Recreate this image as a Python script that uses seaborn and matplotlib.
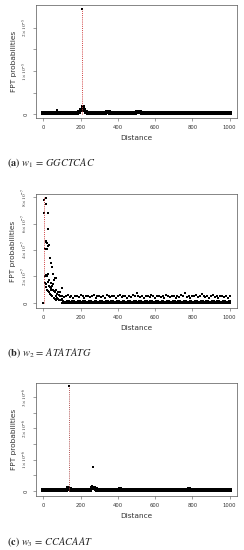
import numpy as np
import pandas as pd
import matplotlib
matplotlib.use("Agg")
import matplotlib.pyplot as plt
import seaborn as sns

sns.set_style("white")
plt.rcParams['font.family'] = ['DejaVu Sans']
plt.rcParams['mathtext.fontset'] = 'stix'

# ---- panel (a) w1 = GGCTCAC, values in 1e-5 ----
a_dist = np.arange(0, 1001, 10)
a_prob = [0.02, 0.02, 0.02, 0.02, 0.02, 0.02, 0.02, 0.02, 0.02, 0.02,
          0.02, 0.02, 0.02, 0.02, 0.02, 0.02, 0.02, 0.03, 0.03, 0.05,
          0.10, 0.16, 0.09, 0.05, 0.03, 0.02, 0.02, 0.02, 0.02, 0.02,
          0.02, 0.02, 0.03, 0.03, 0.04, 0.04, 0.03, 0.02, 0.02, 0.02,
          0.02, 0.02, 0.02, 0.02, 0.02, 0.02, 0.02, 0.02, 0.02, 0.03,
          0.04, 0.05, 0.04, 0.03, 0.02, 0.02, 0.02, 0.02, 0.02, 0.02,
          0.02, 0.02, 0.02, 0.02, 0.02, 0.02, 0.02, 0.02, 0.02, 0.02,
          0.02, 0.02, 0.02, 0.02, 0.02, 0.02, 0.02, 0.02, 0.02, 0.02,
          0.02, 0.02, 0.02, 0.02, 0.02, 0.02, 0.02, 0.02, 0.02, 0.02,
          0.02, 0.02, 0.02, 0.02, 0.02, 0.02, 0.02, 0.02, 0.02, 0.02,
          0.02]
a_extra_dist = [75, 195, 205, 215, 225, 206]
a_extra_prob = [0.085, 0.07, 0.13, 0.14, 0.07, 2.44]
a_peak = 206
a_peak_val = 2.44
a_yticks = [0, 0.5, 1.0, 1.5, 2.0]
a_ylabels = ["0", "", r"$1\times10^{-5}$", "", r"$2\times10^{-5}$"]

# ---- panel (b) w2 = ATATATG, values in 1e-7 ----
b_head_dist = [0, 5, 14, 14, 5, 23, 27, 12, 16, 20, 25, 8, 17, 32, 35, 39, 44,
               9, 14, 20, 26, 53, 62, 58, 66, 10, 15, 22, 28, 33, 38, 43, 48,
               52, 57, 64, 70, 75, 80, 85, 90, 95, 100, 18, 24, 30, 36, 42,
               47, 55, 60, 68, 73, 78, 84, 88, 93, 98, 12, 40, 50, 30, 70]
b_head_prob = [0.0, 7.8, 7.9, 7.45, 6.8, 6.8, 5.55, 4.7, 4.6, 4.5, 4.3, 4.1,
               4.1, 4.4, 3.4, 3.0, 2.7, 2.0, 2.1, 2.0, 2.2, 2.2, 1.9, 1.75,
               1.9, 1.5, 1.4, 1.6, 1.3, 1.2, 1.1, 1.0, 1.3, 1.0, 0.9, 0.8,
               1.0, 0.7, 0.8, 0.6, 0.8, 0.5, 1.1, 1.0, 0.9, 0.8, 0.7, 0.6,
               0.5, 0.4, 0.3, 0.2, 0.4, 0.3, 0.2, 0.5, 0.2, 0.3, 1.2, 1.5,
               1.4, 1.7, 0.5]
b_dist = np.arange(100, 1001, 10)
b_high = [0.55, 0.45, 0.5, 0.6, 0.45, 0.5, 0.4, 0.55, 0.5, 0.45,
          0.6, 0.5, 0.4, 0.55, 0.5, 0.45, 0.5, 0.6, 0.4, 0.5,
          0.55, 0.45, 0.5, 0.4, 0.6, 0.5, 0.45, 0.55, 0.5, 0.4,
          0.5, 0.6, 0.45, 0.5, 0.55, 0.4, 0.5, 0.45, 0.6, 0.5,
          0.75, 0.55, 0.45, 0.5, 0.4, 0.55, 0.5, 0.45, 0.6, 0.5,
          0.4, 0.5, 0.55, 0.45, 0.5, 0.4, 0.6, 0.5, 0.45, 0.5,
          0.55, 0.4, 0.5, 0.45, 0.6, 0.5, 0.75, 0.45, 0.5, 0.4,
          0.55, 0.5, 0.6, 0.45, 0.5, 0.7, 0.5, 0.45, 0.55, 0.4,
          0.5, 0.6, 0.45, 0.5, 0.4, 0.55, 0.5, 0.45, 0.5, 0.4,
          0.5]
b_low = [0.15, 0.1, 0.12, 0.15, 0.1, 0.12, 0.15, 0.1, 0.12, 0.15,
         0.1, 0.12, 0.15, 0.1, 0.12, 0.15, 0.1, 0.12, 0.15, 0.1,
         0.12, 0.15, 0.1, 0.12, 0.15, 0.1, 0.12, 0.15, 0.1, 0.12,
         0.15, 0.1, 0.12, 0.15, 0.1, 0.12, 0.15, 0.1, 0.12, 0.15,
         0.1, 0.12, 0.15, 0.1, 0.12, 0.15, 0.1, 0.12, 0.15, 0.1,
         0.12, 0.15, 0.1, 0.12, 0.15, 0.1, 0.12, 0.15, 0.1, 0.12,
         0.15, 0.1, 0.12, 0.15, 0.1, 0.12, 0.15, 0.1, 0.12, 0.15,
         0.1, 0.12, 0.15, 0.1, 0.12, 0.15, 0.1, 0.12, 0.15, 0.1,
         0.12, 0.15, 0.1, 0.12, 0.15, 0.1, 0.12, 0.15, 0.1, 0.12,
         0.15]
b_zero = [0.0] * 91
b_peak = 5
b_peak_val = 7.98
b_yticks = [0, 2, 4, 6, 8]
b_ylabels = ["0", r"$2\times10^{-7}$", r"$4\times10^{-7}$",
             r"$6\times10^{-7}$", r"$8\times10^{-7}$"]

# ---- panel (c) w3 = CCACAAT, values in 1e-6 ----
c_dist = np.arange(0, 1001, 10)
c_prob = [0.03, 0.03, 0.03, 0.03, 0.03, 0.03, 0.03, 0.03, 0.03, 0.03,
          0.03, 0.03, 0.04, 0.08, 0.06, 0.03, 0.03, 0.03, 0.03, 0.03,
          0.03, 0.03, 0.03, 0.03, 0.03, 0.04, 0.08, 0.10, 0.05, 0.03,
          0.03, 0.03, 0.03, 0.03, 0.03, 0.03, 0.03, 0.03, 0.03, 0.03,
          0.04, 0.05, 0.04, 0.03, 0.03, 0.03, 0.03, 0.03, 0.03, 0.03,
          0.03, 0.03, 0.03, 0.03, 0.03, 0.03, 0.03, 0.03, 0.03, 0.03,
          0.03, 0.03, 0.03, 0.03, 0.03, 0.03, 0.03, 0.03, 0.03, 0.03,
          0.03, 0.03, 0.03, 0.03, 0.03, 0.03, 0.04, 0.04, 0.06, 0.04,
          0.03, 0.03, 0.03, 0.03, 0.03, 0.03, 0.03, 0.03, 0.03, 0.03,
          0.03, 0.03, 0.03, 0.03, 0.03, 0.03, 0.03, 0.03, 0.03, 0.03,
          0.03]
c_extra_dist = [135, 132, 266, 262, 135]
c_extra_prob = [0.12, 0.09, 0.76, 0.15, 3.36]
c_peak = 135
c_peak_val = 3.36
c_yticks = [0, 0.5, 1.0, 1.5, 2.0, 2.5, 3.0]
c_ylabels = ["0", "", r"$1\times10^{-6}$", "", r"$2\times10^{-6}$", "",
             r"$3\times10^{-6}$"]

captions = [r"$\mathbf{(a)}\ w_1\,=\,GGCTCAC$",
            r"$\mathbf{(b)}\ w_2\,=\,ATATATG$",
            r"$\mathbf{(c)}\ w_3\,=\,CCACAAT$"]

fig = plt.figure(figsize=(2.44, 5.5), dpi=100)
W, H = 244, 550


def make_ax(top, bottom):
    return fig.add_axes([36 / W, 1 - bottom / H, 201 / W, (bottom - top) / H])


def pts(ax, x, y, s=4):
    sns.scatterplot(x=x, y=y, ax=ax, color="black", s=s, linewidth=0,
                    marker="s", legend=False)


def style(ax, ylim, yticks, ylabels):
    ax.set_xlim(-40, 1040)
    ax.set_ylim(*ylim)
    for sp in ax.spines.values():
        sp.set_visible(True)
        sp.set_color("#555555")
        sp.set_linewidth(0.5)
    ax.set_xticks([0, 200, 400, 600, 800, 1000])
    ax.set_xticklabels(["0", "200", "400", "600", "800", "1000"])
    ax.set_yticks(yticks)
    ax.set_yticklabels(ylabels, rotation=90, va="center")
    ax.tick_params(axis="both", length=2.5, width=0.4, color="#555555",
                   labelsize=3.8, labelcolor="#333333", pad=2.5,
                   direction="out", bottom=True, left=True)
    ax.set_xlabel("Distance", fontsize=5.3, color="#333333", labelpad=4)
    ax.set_ylabel("FPT probabilities", fontsize=5.3, color="#333333",
                  labelpad=3)
    ax.grid(False)


# panel a
ax1 = make_ax(5, 118)
ax1.vlines(a_peak, 0, a_peak_val, colors="#d04040", linestyles=(0, (1, 1.2)),
           linewidth=0.7)
pts(ax1, a_dist, a_prob, s=5)
pts(ax1, a_extra_dist, a_extra_prob)
style(ax1, (-0.09, 2.53), a_yticks, a_ylabels)

# panel b
ax2 = make_ax(194, 308)
ax2.vlines(b_peak, 0, b_peak_val, colors="#d04040", linestyles=(0, (1, 1.2)),
           linewidth=0.7)
pts(ax2, b_head_dist, b_head_prob)
pts(ax2, b_dist, b_high, s=3)
pts(ax2, b_dist + 5, b_low, s=4)
pts(ax2, b_dist, b_zero, s=4)
style(ax2, (-0.38, 8.23), b_yticks, b_ylabels)

# panel c
ax3 = make_ax(383, 496)
ax3.vlines(c_peak, 0, c_peak_val, colors="#b05050", linestyles=(0, (1, 1.2)),
           linewidth=0.7)
pts(ax3, c_dist, c_prob, s=5)
pts(ax3, c_extra_dist, c_extra_prob)
style(ax3, (-0.16, 3.45), c_yticks, c_ylabels)

for cap, ypix in zip(captions, [163, 353, 542]):
    fig.text(7 / W, 1 - ypix / H, cap, fontsize=7.5, va="center", ha="left")

fig.savefig("out.png", dpi=100)
